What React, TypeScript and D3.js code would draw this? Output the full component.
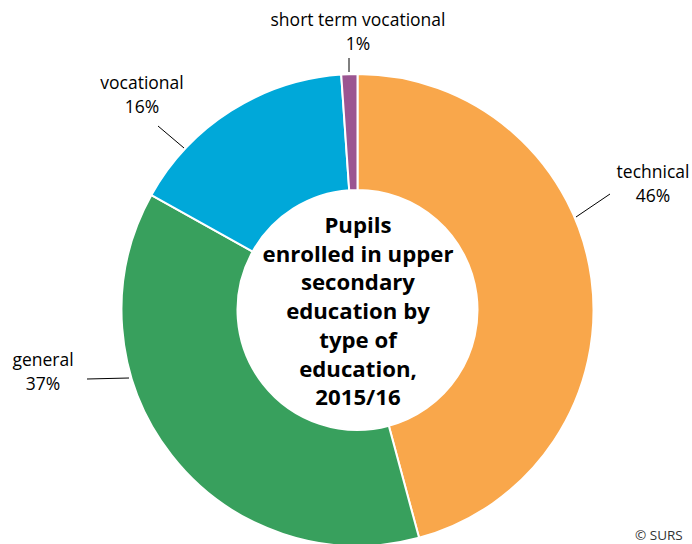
import React from "react";
import * as d3 from "d3";

const categories = ["technical", "general", "vocational", "short term vocational"];
const shares = [45.8, 37.3, 15.8, 1.1];
const colors = ["#F9A74B", "#38A05D", "#00A8D9", "#9B5591"];
const titleLines = ["Pupils", "enrolled in upper", "secondary", "education by", "type of", "education,", "2015/16"];

// label layout: text anchor centre, baseline of first line, leader line
const labelLayout = [
  { x: 653, y: 178, line: [610, 194, 576, 217] },
  { x: 43, y: 366, line: [87, 379, 129, 378] },
  { x: 142, y: 89, line: [158, 126, 184, 148] },
  { x: 358, y: 26, line: [349, 58, 349, 72] },
];

const W = 692, H = 544;
const cx = 357.5, cy = 310;
const rOuter = 236, rInner = 120;

export default function App() {
  const pie = d3.pie<number>().sort(null).value((d) => d).startAngle(0).endAngle(2 * Math.PI);
  const arcs = pie(shares);
  const arc = d3.arc<d3.PieArcDatum<number>>().innerRadius(rInner).outerRadius(rOuter);
  const font = "'Open Sans', 'Noto Sans', sans-serif";
  return (
    <svg width={W} height={H} style={{ position: "absolute", left: 0, top: 0 }}>
      <rect width={W} height={H} fill="#fff" />
      <g transform={`translate(${cx},${cy})`}>
        {arcs.map((a, i) => (
          <path key={i} d={arc(a) || ""} fill={colors[i]} stroke="#fff" strokeWidth={2} />
        ))}
      </g>
      {categories.map((c, i) => {
        const L = labelLayout[i];
        return (
          <g key={c}>
            <line x1={L.line[0]} y1={L.line[1]} x2={L.line[2]} y2={L.line[3]} stroke="#000" strokeWidth={1} />
            <text x={L.x} y={L.y} textAnchor="middle" fontFamily={font} fontSize={17.5} fill="#000">
              {c}
            </text>
            <text x={L.x} y={L.y + 23.5} textAnchor="middle" fontFamily={font} fontSize={17.5} fill="#000">
              {`${Math.round(shares[i])}%`}
            </text>
          </g>
        );
      })}
      {titleLines.map((t, i) => (
        <text key={i} x={358} y={233 + i * 28.7} textAnchor="middle" fontFamily={font} fontWeight="bold" fontSize={22.2} fill="#000">
          {t}
        </text>
      ))}
      <text x={635} y={540} textAnchor="start" fontFamily={font} fontSize={13.5} fill="#333">© SURS</text>
    </svg>
  );
}
